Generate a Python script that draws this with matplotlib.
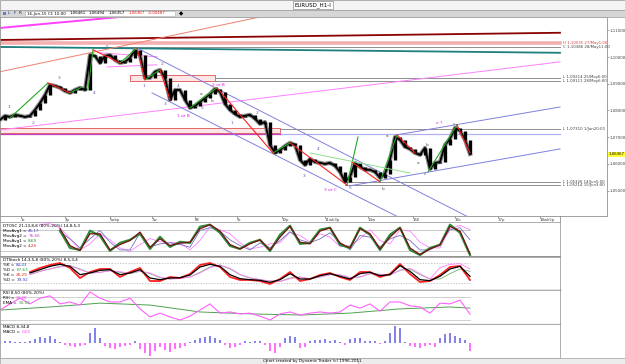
import numpy as np
import matplotlib.pyplot as plt
from matplotlib.patches import Rectangle
import matplotlib.transforms as mtrans

W, H = 625, 364
PX = 5.0  # pixels per bar

# -------------------------------------------- #
# EURUSD H1 closes (one value every ~3 hours)
closes = [1.0765, 1.0780, 1.0776, 1.0784, 1.0780, 1.0776, 1.0780, 1.0802, 1.0828, 1.0858,
          1.0896, 1.0892, 1.0885, 1.0873, 1.0866, 1.0877, 1.0885, 1.0877, 1.1008, 1.1004,
          1.0978, 1.1004, 1.1008, 1.0989, 1.0978, 1.0982, 1.0997, 1.1027, 1.1008, 1.0922,
          1.0922, 1.0945, 1.0952, 1.0922, 1.0840, 1.0877, 1.0877, 1.0840, 1.0810, 1.0817,
          1.0832, 1.0847, 1.0862, 1.0881, 1.0870, 1.0825, 1.0802, 1.0787, 1.0776, 1.0780,
          1.0784, 1.0769, 1.0750, 1.0757, 1.0671, 1.0641, 1.0652, 1.0667, 1.0679, 1.0671,
          1.0615, 1.0596, 1.0619, 1.0607, 1.0604, 1.0600, 1.0604, 1.0593, 1.0570, 1.0533,
          1.0551, 1.0604, 1.0589, 1.0578, 1.0578, 1.0570, 1.0548, 1.0563, 1.0615, 1.0701,
          1.0690, 1.0664, 1.0656, 1.0641, 1.0634, 1.0660, 1.0581, 1.0604, 1.0607, 1.0671,
          1.0694, 1.0735, 1.0724, 1.0690, 1.0637]
last_price = 1.06367

# zigzag legs (bar0, price0, bar1, price1)
green_legs = [(2, 1.0772, 9.6, 1.0903), (14, 1.0866, 16.4, 1.0888), (17.6, 1.0877, 18.6, 1.1027),
              (24, 1.0978, 27.4, 1.1034), (29, 1.0915, 32, 1.0952), (38, 1.0810, 43.4, 1.0885),
              (54.6, 1.0641, 58, 1.0679), (69.4, 1.0521, 71.6, 1.0701), (76, 1.0533, 79.4, 1.0709),
              (85.6, 1.0570, 91.4, 1.0746)]
red_legs = [(9.6, 1.0903, 14, 1.0866), (18.6, 1.1027, 24, 1.0978), (27.4, 1.1034, 29, 1.0915),
            (32, 1.0952, 34, 1.0840), (43.4, 1.0885, 54.6, 1.0641), (58, 1.0679, 69.4, 1.0521),
            (70.4, 1.0607, 76, 1.0533), (79.4, 1.0709, 83, 1.0641), (91.4, 1.0746, 94, 1.0641)]
lightgreen_legs = [(62, 1.0641, 82, 1.0566)]

# trend lines (bar0, price0, bar1, price1, colour, width)
trend_lines = [(0, 1.1064, 112, 1.1091, '#8b0000', 1.3),
               (0, 1.1038, 112, 1.1016, '#1f7f7f', 1.3),
               (0, 1.1109, 28.6, 1.1158, '#ff40ff', 1.4),
               (0, 1.0945, 54, 1.1158, '#f08070', 0.7),
               (0, 1.0727, 112, 1.0982, '#ff80ff', 0.7),
               (20, 1.1016, 31.4, 1.1001, '#ff80ff', 0.7),
               (21.4, 1.0963, 31.4, 1.0971, '#ff80ff', 0.7),
               (27.4, 1.1034, 94, 1.0398, '#8080e0', 0.7),
               (30.4, 1.0866, 80, 1.0398, '#8080e0', 0.7),
               (70, 1.0518, 112, 1.0656, '#8080e0', 0.7),
               (79.4, 1.0709, 112, 1.0813, '#8080e0', 0.7)]

# horizontal levels (price, bar0, bar1, colour, width)
levels = [(1.1054, 0, 112, '#f4b0b0', 2.6), (1.1038, 0, 112, '#909090', 0.7),
          (1.0922, 43, 112, '#909090', 0.7), (1.0911, 43, 112, '#909090', 0.7),
          (1.0731, 56, 112, '#909090', 0.7), (1.0712, 56, 112, '#b0b0f0', 0.9),
          (1.0712, 0, 56, '#c040c0', 0.9),
          (1.0533, 69, 112, '#909090', 0.7), (1.0521, 69, 112, '#909090', 0.7)]
level_texts = [('H 1,10535 27/May1:00', 1.1054, '#e04040'), ('C 1,10386 28/May11:00', 1.1038, '#404040'),
               ('L 1,09214 25/May6:00', 1.0924, '#404040'), ('L 1,09111 28/May6:00', 1.0910, '#404040'),
               ('L 1,07310 1/Jun20:00', 1.0731, '#404040'),
               ('L 1,05326 14/Jun5:00', 1.0534, '#404040'), ('L 1,05214 15/Jun3:00', 1.0520, '#404040')]
# zones (bar0, bar1, price0, price1)
zones = [(26, 43, 1.0911, 1.0933), (0, 56, 1.0716, 1.0735)]

wave_labels = [('1', 1.8, 1.0813, 'n'), ('2', 6.6, 1.0754, 'n'), ('3', 11.8, 1.0922, 'n'),
               ('4', 18.8, 1.0866, 'n'), ('5', 21.4, 1.1038, 'n'), ('1', 28.8, 1.0892, 'n'),
               ('2', 32.4, 1.0975, 'n'), ('3', 33, 1.0825, 'n'), ('4', 35.6, 1.0892, 'n'),
               ('5', 40.4, 1.0810, 'n'), ('a', 40.2, 1.0862, 'l'), ('b', 42.4, 1.0836, 'l'),
               ('2 or B', 43.6, 1.0896, 'm'), ('1 or B', 36.6, 1.0780, 'm'),
               ('1', 46.4, 1.0754, 'n'), ('2', 51.4, 1.0791, 'n'), ('3', 60.8, 1.0555, 'n'),
               ('4', 63.6, 1.0656, 'n'), ('3 or C', 66, 1.0503, 'm'), ('5', 70, 1.0510, 'n'),
               ('b', 76.6, 1.0506, 'l'), ('a', 77.4, 1.0705, 'l'), ('b', 85.4, 1.0671, 'l'),
               ('a', 83.6, 1.0604, 'l'), ('c', 85, 1.0563, 'l'), ('c', 90.8, 1.0750, 'l'),
               ('e ?', 87.8, 1.0754, 'm')]

price_ticks = [1.05, 1.06, 1.07, 1.08, 1.09, 1.10, 1.11]
day_ticks = [4.2, 13, 22, 30.4, 39, 47.4, 56.4, 65, 73.6, 82.6, 91, 99.6, 108]
day_labels = ['1c', '3p', '5wkp', '7w', '8E', '9c', '10p', '11wk3p', '14w', '15E', '16c', '17p', '18wk5p']

# oscillators (every other bar)
osc_bars = np.arange(8, 95, 2)
nan = np.nan
dtosc_green = [nan, nan, 79, 28, 22, 79, 64, 19, 43, 52, 70, 25, 61, 31, 46, 43, 91, 97, 73, 34, 25, 43,
               52, 19, 67, 94, 40, 43, 82, 88, 37, 28, 88, 67, 22, 67, 88, 22, 7, 28, 37, 97, 73, 7]
dtosc_red = [nan, nan, 85, 35, 20, 70, 70, 22, 38, 50, 75, 30, 55, 35, 42, 45, 85, 97, 78, 38, 25, 40,
             52, 22, 60, 92, 45, 40, 78, 88, 42, 28, 85, 70, 25, 60, 88, 28, 8, 25, 37, 92, 78, 10]
dtosc_blue = [nan, nan, 75, 55, 28, 55, 80, 45, 22, 22, 73, 31, 40, 43, 38, 30, 80, 88, 78, 52, 35, 22,
              43, 28, 50, 76, 52, 43, 55, 73, 45, 22, 65, 60, 31, 55, 65, 50, 22, 22, 40, 82, 88, 52]
dtosc_pink = [98, 100, 88, 55, 22, 40, 70, 52, 28, 18, 38, 56, 46, 44, 43, 22, 50, 91, 82, 70, 43, 25,
              30, 40, 43, 75, 65, 45, 70, 60, 32, 35, 55, 82, 50, 40, 82, 78, 45, 28, 28, 85, 95, 82]

stoch_bars = np.arange(6, 95, 2)
stoch_red = [53, 65, 74, 80, 65, 35, 53, 62, 62, 38, 53, 65, 26, 26, 38, 35, 47, 74, 80, 68, 38, 29, 29,
             26, 17, 32, 53, 26, 32, 44, 50, 38, 29, 53, 53, 38, 47, 77, 47, 23, 26, 44, 68, 71, 29]
stoch_black = [50, 60, 70, 76, 70, 45, 50, 58, 60, 45, 50, 60, 35, 30, 35, 36, 44, 68, 76, 70, 45, 33, 30,
               28, 22, 30, 48, 32, 32, 42, 48, 40, 32, 48, 52, 42, 45, 72, 55, 30, 27, 40, 62, 70, 40]
stoch_green = [45, 55, 62, 70, 72, 62, 50, 52, 58, 52, 48, 55, 48, 36, 32, 35, 38, 52, 68, 74, 62, 45, 35,
               30, 26, 25, 35, 38, 32, 38, 45, 44, 36, 38, 48, 46, 44, 58, 62, 45, 32, 32, 48, 62, 55]
stoch_pink = [45, 55, 62, 68, 72, 60, 50, 52, 56, 54, 50, 56, 50, 38, 32, 33, 38, 50, 66, 74, 64, 46, 36,
              30, 26, 24, 33, 38, 33, 38, 45, 45, 36, 38, 48, 46, 44, 58, 64, 48, 32, 66, 76, 78, 62]

rsi_bars = np.arange(0, 95, 2)
rsi = [46, 62, 77, 62, 77, 83, 62, 67, 59, 93, 77, 67, 67, 77, 49, 28, 38, 28, 20, 30, 46, 62, 38, 41,
       36, 38, 30, 20, 36, 41, 33, 38, 41, 38, 41, 59, 51, 62, 43, 67, 67, 57, 54, 38, 64, 62, 72, 35]
ema_bars = [0, 10, 20, 30, 40, 50, 60, 70, 80, 90, 94]
rsi_ema = [46, 54, 64, 59, 41, 36, 33, 38, 49, 54, 51]

macd_hist = [2, 2, 2, 1, 1, 1, 2, 4, 6, 5, 7, 4, 1, -2, -3, -4, -3, -2, 10, 15,
             5, -3, -5, -6, -4, -3, -2, 2, -6, -10, -13, -8, -4, -7, -9, -6, -5, -3, 1, 3,
             5, 6, 7, 5, 3, -2, -5, -4, -2, 2, 1, 2, 2, -2, -8, -10, -4, 5, 7, 6,
             -5, -4, 2, 3, 3, 4, 2, 3, 1, -2, 4, 5, 5, 2, 2, 2, -1, 2, 10, 17,
             15, 1, -3, -4, -5, -3, -2, -4, 5, 9, 10, 7, 5, 3, -8]  # pips
# -------------------------------------------- #

FS = 3.0
fig = plt.figure(figsize=(W / 100, H / 100), dpi=100)
fig.patch.set_facecolor('white')


def box(x0, y0, x1, y1):
    return [x0 / W, 1 - y1 / H, (x1 - x0) / W, (y1 - y0) / H]


def ftext(x, y, s, **kw):
    kw.setdefault('fontsize', FS)
    kw.setdefault('va', 'center')
    return fig.text(x / W, 1 - y / H, s, **kw)


def frect(x0, y0, x1, y1, **kw):
    fig.add_artist(Rectangle((x0 / W, 1 - y1 / H), (x1 - x0) / W, (y1 - y0) / H,
                             transform=fig.transFigure, **kw))


ov = fig.add_axes([0, 0, 1, 1], zorder=10)
ov.axis('off')


def chain(x, y, parts, gap=1.2, fs=FS):
    # write text pieces one after another on one line
    t = ftext(x, y, parts[0][0], color=parts[0][1], fontsize=fs)
    for s, c in parts[1:]:
        t = ov.annotate(s, xy=(1, 0.5), xycoords=t, xytext=(gap, 0), textcoords='offset points',
                        va='center', ha='left', fontsize=fs, color=c)
    return t


# title + toolbar
frect(0, 0, 625, 10, facecolor='#f4f4f4', edgecolor='#a0a0a0', lw=0.6)
frect(293, 1, 333, 9, facecolor='white', edgecolor='#909090', lw=0.5)
ftext(313, 5, 'EURUSD_H1-I', ha='center', fontsize=4.0)
frect(0, 10, 625, 17, facecolor='#d6d6d6', edgecolor='#a0a0a0', lw=0.5)
frect(3, 11.5, 6, 14.5, facecolor='#6080c0', edgecolor='none')
chain(8, 13.2, [('L', '#203070'), ('F', '#203070'), ('R', '#203070')], gap=2.0, fs=3.2)
frect(25, 11, 175, 16, facecolor='white', edgecolor='#b0b0b0', lw=0.4)
chain(27, 13.5, [('16-Jun-15 C1 10:00', 'black'), ('1,06461', 'black'), ('1,06494', 'black'),
                 ('1,06357', 'black'), ('1,06367', '#e02020'), ('-0,00487', '#e02020')], gap=2.5, fs=2.9)
ftext(181, 13.5, '◆', ha='center', fontsize=4)

# main price panel
ax = fig.add_axes(box(0, 17, 607, 216))
ax.set_xlim(0, 607 / PX)
ax.set_ylim(1.0405, 1.1150)
for b0, b1, p0, p1 in zones:
    ax.add_patch(Rectangle((b0, p0), b1 - b0, p1 - p0, facecolor='#ffe6e6',
                           edgecolor='#e05050', lw=0.6, zorder=1))
for p, b0, b1, c, w in levels:
    ax.plot([b0, b1], [p, p], color=c, lw=w, zorder=2)
for b0, p0, b1, p1, c, w in trend_lines:
    ax.plot([b0, b1], [p0, p1], color=c, lw=w, zorder=2)

bars = np.arange(len(closes))
cl = np.array(closes)
prev = np.r_[cl[0], cl[:-1]]
ax.plot(bars, cl, color='#8a8a8a', lw=3.0, zorder=3)
ax.vlines(bars, np.minimum(prev, cl), np.maximum(prev, cl), color='black', lw=2.4, zorder=4)
ax.plot(bars, cl, color='black', lw=1.3, zorder=4)

for b0, p0, b1, p1 in green_legs:
    ax.plot([b0, b1], [p0, p1], color='#22aa22', lw=0.8, zorder=5)
for b0, p0, b1, p1 in red_legs:
    ax.plot([b0, b1], [p0, p1], color='#ff2020', lw=0.8, zorder=5)
for b0, p0, b1, p1 in lightgreen_legs:
    ax.plot([b0, b1], [p0, p1], color='#90e090', lw=0.7, zorder=5)

wave_colors = {'n': '#5a5aa8', 'l': '#505050', 'm': '#e020e0'}
for s, b, p, k in wave_labels:
    ax.text(b, p, s, fontsize=3.2, color=wave_colors[k], ha='center', va='center', zorder=6)

for s, p, c in level_texts:
    ax.text(112.6, p, s, fontsize=2.8, color=c, va='center', zorder=6)

ax.set_xticks([])
ax.yaxis.tick_right()
ax.set_yticks(price_ticks)
ax.set_yticklabels([f'{v:.5f}'.replace('.', ',') for v in price_ticks])
ax.tick_params(axis='y', labelsize=2.8, length=1.2, pad=0.6, width=0.5, color='#808080', labelcolor='#404040')
for s in ax.spines.values():
    s.set_color('#909090')
    s.set_linewidth(0.6)
tr = mtrans.blended_transform_factory(ax.transAxes, ax.transData)
ax.text(1.002, last_price, f'{last_price:.5f}'.replace('.', ','), transform=tr, fontsize=2.8,
        va='center', ha='left', bbox=dict(facecolor='#ffff33', edgecolor='none', pad=0.4), zorder=7)

# time strip
at = fig.add_axes(box(0, 216, 560, 222))
at.set_xlim(0, 560 / PX)
at.set_ylim(0, 1)
at.set_yticks([])
at.set_xticks(day_ticks)
at.set_xticklabels(day_labels, ha='left')
at.xaxis.tick_top()
at.tick_params(axis='x', direction='in', length=1.5, width=0.5, pad=-4.3, labelsize=2.8,
               color='#707070', labelcolor='#404040')
for s in at.spines.values():
    s.set_color('#909090')
    s.set_linewidth(0.6)


def panel(y0, y1, ylim):
    a = fig.add_axes(box(0, y0, 560, y1))
    a.set_xlim(0, 560 / PX)
    a.set_ylim(*ylim)
    a.set_xticks([])
    a.set_yticks([])
    for s in a.spines.values():
        s.set_color('#a0a0a0')
        s.set_linewidth(0.6)
    return a


# DTOSC
a1 = panel(222, 257, (1, 105))
for g in (80, 20):
    a1.plot([0, 94], [g, g], color='#c0c0c0', lw=0.6)
a1.plot(osc_bars, dtosc_pink, color='#ff80ff', lw=0.6)
a1.plot(osc_bars, dtosc_blue, color='#7070c0', lw=0.6)
a1.plot(osc_bars, dtosc_green, color='#2e8b3a', lw=1.6)
a1.plot(osc_bars, dtosc_red, color='#7a1010', lw=0.9)
a1.spines['bottom'].set_linewidth(1.4)
a1.spines['bottom'].set_color('#909090')

# DTStoch
a2 = panel(257, 290, (-1, 98))
for g in (80, 20):
    a2.plot([0, 94], [g, g], color='#b0b0b0', lw=0.5, ls=(0, (2, 2)))
a2.plot(stoch_bars, stoch_green, color='#70b070', lw=0.6)
a2.plot(stoch_bars, stoch_pink, color='#ff80ff', lw=0.6)
a2.plot(stoch_bars, stoch_red, color='#ff2020', lw=1.3)
a2.plot(stoch_bars, stoch_black, color='black', lw=0.9)
a2.spines['bottom'].set_color('#202060')
a2.spines['bottom'].set_linewidth(0.9)

# RSI
a3 = panel(290, 324, (9.6, 98.3))
for g in (80, 20):
    a3.plot([0, 94], [g, g], color='#c8c8c8', lw=0.6)
a3.plot(ema_bars, rsi_ema, color='#50a050', lw=0.7)
a3.plot(rsi_bars, rsi, color='#ff60ff', lw=0.8)
a3.spines['bottom'].set_color('#202020')
a3.spines['bottom'].set_linewidth(0.8)

# MACD
a4 = panel(324, 358, (-15, 19))
mh = np.array(macd_hist)
a4.bar(bars, mh, width=0.45, color=np.where(mh >= 0, '#8484e8', '#ff70ff'), lw=0)

# panel captions
ftext(3, 226, 'DTOSC 21,13,8,8 (80%-20%) 14,8,5,3')
for i, (lab, val, c) in enumerate([('MovAvg1 =', '45,17', '#4040c0'), ('MovAvg2 =', '76,66', '#c040c0'),
                                   ('MovAvg1 =', '8,69', '#208020'), ('MovAvg2 =', '4,24', '#c02020')]):
    chain(3, 231 + 5 * i, [(lab, 'black'), (val, c)])
ftext(3, 260, 'DTStoch 14,3,5,8 (80%-20%) 8,5,3,4')
for i, (lab, val, c) in enumerate([('%K =', '84,43', '#4040c0'), ('%D =', '67,63', '#20a020'),
                                   ('%K =', '26,29', '#e02020'), ('%D =', '39,92', '#4040c0')]):
    chain(3, 265 + 5 * i, [(lab, 'black'), (val, c)])
ftext(3, 293, 'RSI 8,50 (80%-20%)')
chain(3, 298, [('RSI =', 'black'), ('34,88', '#ff40ff')])
chain(3, 303, [('EMA =', 'black'), ('50,53', '#30a030')])
ftext(3, 327, 'MACD 8,34,8')
chain(3, 332, [('MACD =', 'black'), ('0,00', '#ff40ff')])

# footer
frect(0, 358, 625, 364, facecolor='#ececec', edgecolor='#a0a0a0', lw=0.5)
frect(266, 358.5, 358, 363.5, facecolor='white', edgecolor='#909090', lw=0.4)
ftext(312, 361, 'Chart created by Dynamic Trader (c) 1996-2011', ha='center', fontsize=3.0)

plt.savefig('out.png', dpi=100)
